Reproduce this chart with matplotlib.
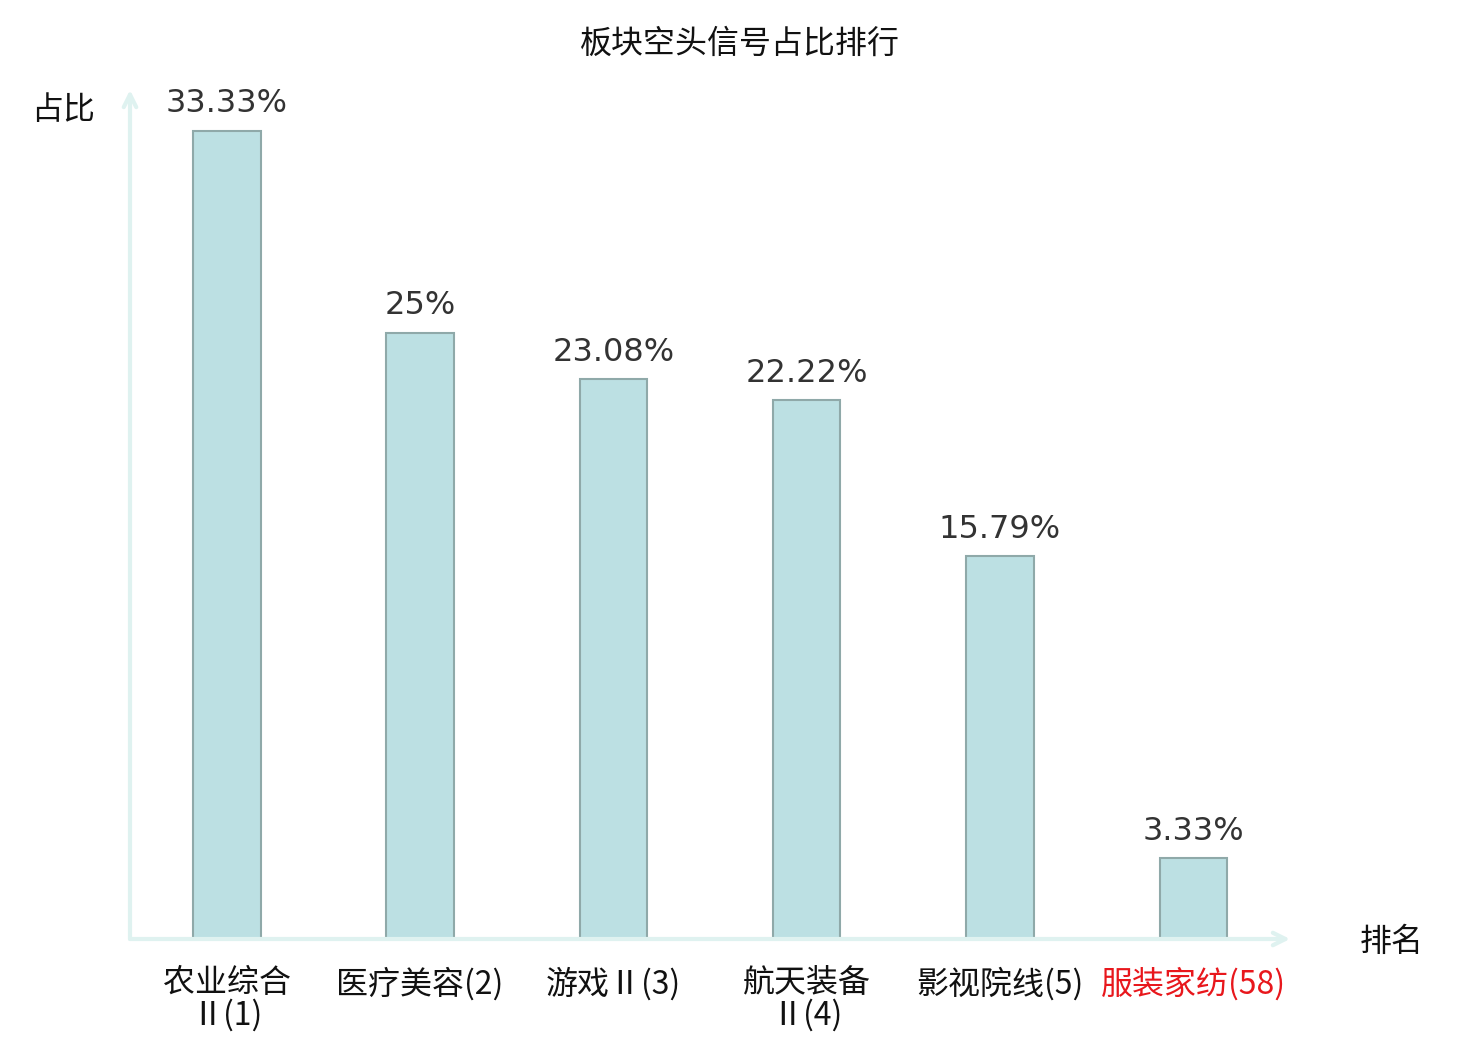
import matplotlib
matplotlib.use("Agg")
import matplotlib.pyplot as plt

plt.rcParams['font.family'] = ['Noto Sans CJK SC', 'DejaVu Sans']

categories = ["农业综合\nⅡ(1)", "医疗美容(2)", "游戏Ⅱ(3)", "航天装备\nⅡ(4)", "影视院线(5)", "服装家纺(58)"]
values = [33.33, 25, 23.08, 22.22, 15.79, 3.33]
value_labels = ["33.33%", "25%", "23.08%", "22.22%", "15.79%", "3.33%"]
label_colors = ["#111111", "#111111", "#111111", "#111111", "#111111", "#e8171c"]

fig = plt.figure(figsize=(14.8, 10.4), dpi=100)
ax = fig.add_axes([130/1480, 1 - 939/1040, (1290-130)/1480, (939-90)/1040])

x = list(range(len(categories)))
ax.bar(x, values, width=0.35, color="#bce0e3", edgecolor="#8fa9a9", linewidth=1.5, zorder=3)

for xi, v, lab in zip(x, values, value_labels):
    ax.annotate(lab, (xi, v), xytext=(0, 8), textcoords="offset points",
                ha="center", va="bottom", fontsize=23, color="#333333",
                family=['DejaVu Sans'])

ax.set_xlim(-0.5, 5.5)
ax.set_ylim(0, 35)
for s in ax.spines.values():
    s.set_visible(False)
ax.set_yticks([])
ax.set_xticks(x)
ax.set_xticklabels(categories, fontsize=23, linespacing=1.0)
for t, c in zip(ax.get_xticklabels(), label_colors):
    t.set_color(c)
ax.tick_params(axis='x', length=0, pad=20)

axis_color = "#dff2f0"
ax.annotate("", xy=(1.0, 0), xytext=(0, 0), xycoords="axes fraction",
            arrowprops=dict(arrowstyle="->,head_length=0.9,head_width=0.45", color=axis_color, lw=3,
                            shrinkA=0, shrinkB=0), annotation_clip=False)
ax.annotate("", xy=(0, 1.0), xytext=(0, 0), xycoords="axes fraction",
            arrowprops=dict(arrowstyle="->,head_length=0.9,head_width=0.45", color=axis_color, lw=3,
                            shrinkA=0, shrinkB=0), annotation_clip=False)

fig.text(740/1480, 1 - 44/1040, "板块空头信号占比排行", ha="center", va="center", fontsize=23, color="#111111")
fig.text(63/1480, 1 - 110/1040, "占比", ha="center", va="center", fontsize=23, color="#111111")
fig.text(1392/1480, 1 - 942/1040, "排名", ha="center", va="center", fontsize=23, color="#111111")

fig.savefig("out.png", dpi=100, facecolor="white")
